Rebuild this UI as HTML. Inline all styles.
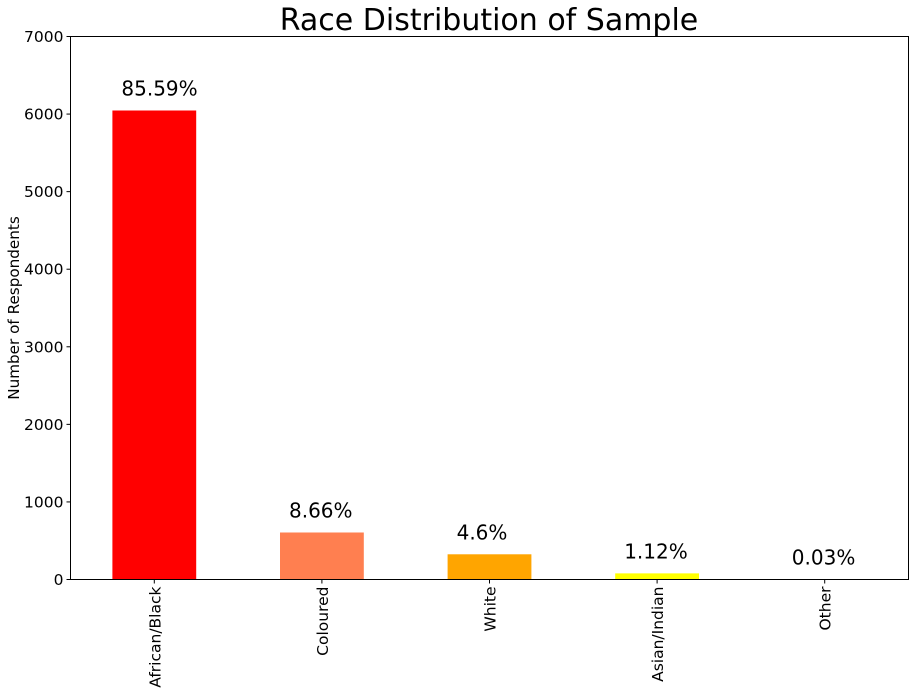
<!DOCTYPE html>
<html><head><meta charset="utf-8"><style>
body{margin:0;background:#fff}
svg text{font-family:"DejaVu Sans","Liberation Sans",sans-serif;fill:#000}
</style></head><body>
<svg id="chart" width="915" height="692" xmlns="http://www.w3.org/2000/svg">
<text x="489" y="30" font-size="30" text-anchor="middle">Race Distribution of Sample</text>
<text transform="translate(19,308) rotate(-90)" font-size="15.2" text-anchor="middle">Number of Respondents</text>
<g id="bars"></g><g id="yticks"></g><g id="xticks"></g>
<rect x="70.5" y="36.5" width="838" height="543" fill="none" stroke="#000" stroke-width="1"/>
</svg>
<script>
const categories = ["African/Black","Coloured","White","Asian/Indian","Other"];
const counts = [6046, 606, 325, 79, 2];
const pctLabels = ["85.59%","8.66%","4.6%","1.12%","0.03%"];
const colors = ["#ff0000","#ff7f50","#ffa500","#ffff00","#ffff00"];
const yTicks = [0,1000,2000,3000,4000,5000,6000,7000];
const L=70.5,R=908.5,T=36.5,B=579.5,ymax=7000;
const ns="http://www.w3.org/2000/svg";
const y=v=>B-(v/ymax)*(B-T);
const step=(R-L)/categories.length;
const xc=i=>L+step*(i+0.5);
const bw=step*0.5;
const gb=document.getElementById('bars'),gy=document.getElementById('yticks'),gx=document.getElementById('xticks');
function mk(t,a){const e=document.createElementNS(ns,t);for(const k in a)e.setAttribute(k,a[k]);return e;}
categories.forEach((c,i)=>{
  const r=mk('rect',{x:xc(i)-bw/2,y:y(counts[i]),width:bw,height:B-y(counts[i]),fill:colors[i]});
  
  
  gb.appendChild(r);
  const t=mk('text',{x:xc(i)-bw/2+9,y:y(counts[i])-15,'font-size':'20'});
  t.textContent=pctLabels[i];
  
  
  gb.appendChild(t);
  const tk=mk('line',{x1:xc(i),x2:xc(i),y1:B,y2:B+4,stroke:'#000'});
  
  
  gx.appendChild(tk);
  const xl=mk('text',{transform:`translate(${xc(i)+6},${B+7}) rotate(-90)`,'font-size':'15.5','text-anchor':'end'});
  xl.textContent=c;
  
  
  gx.appendChild(xl);
});
yTicks.forEach(v=>{
  const tk=mk('line',{x1:L-4,x2:L,y1:y(v),y2:y(v),stroke:'#000'});
  
  
  gy.appendChild(tk);
  const t=mk('text',{x:L-7,y:y(v)+5.5,'font-size':'15.5','text-anchor':'end'});
  t.textContent=v;
  
  
  gy.appendChild(t);
});
</script>
</body></html>
